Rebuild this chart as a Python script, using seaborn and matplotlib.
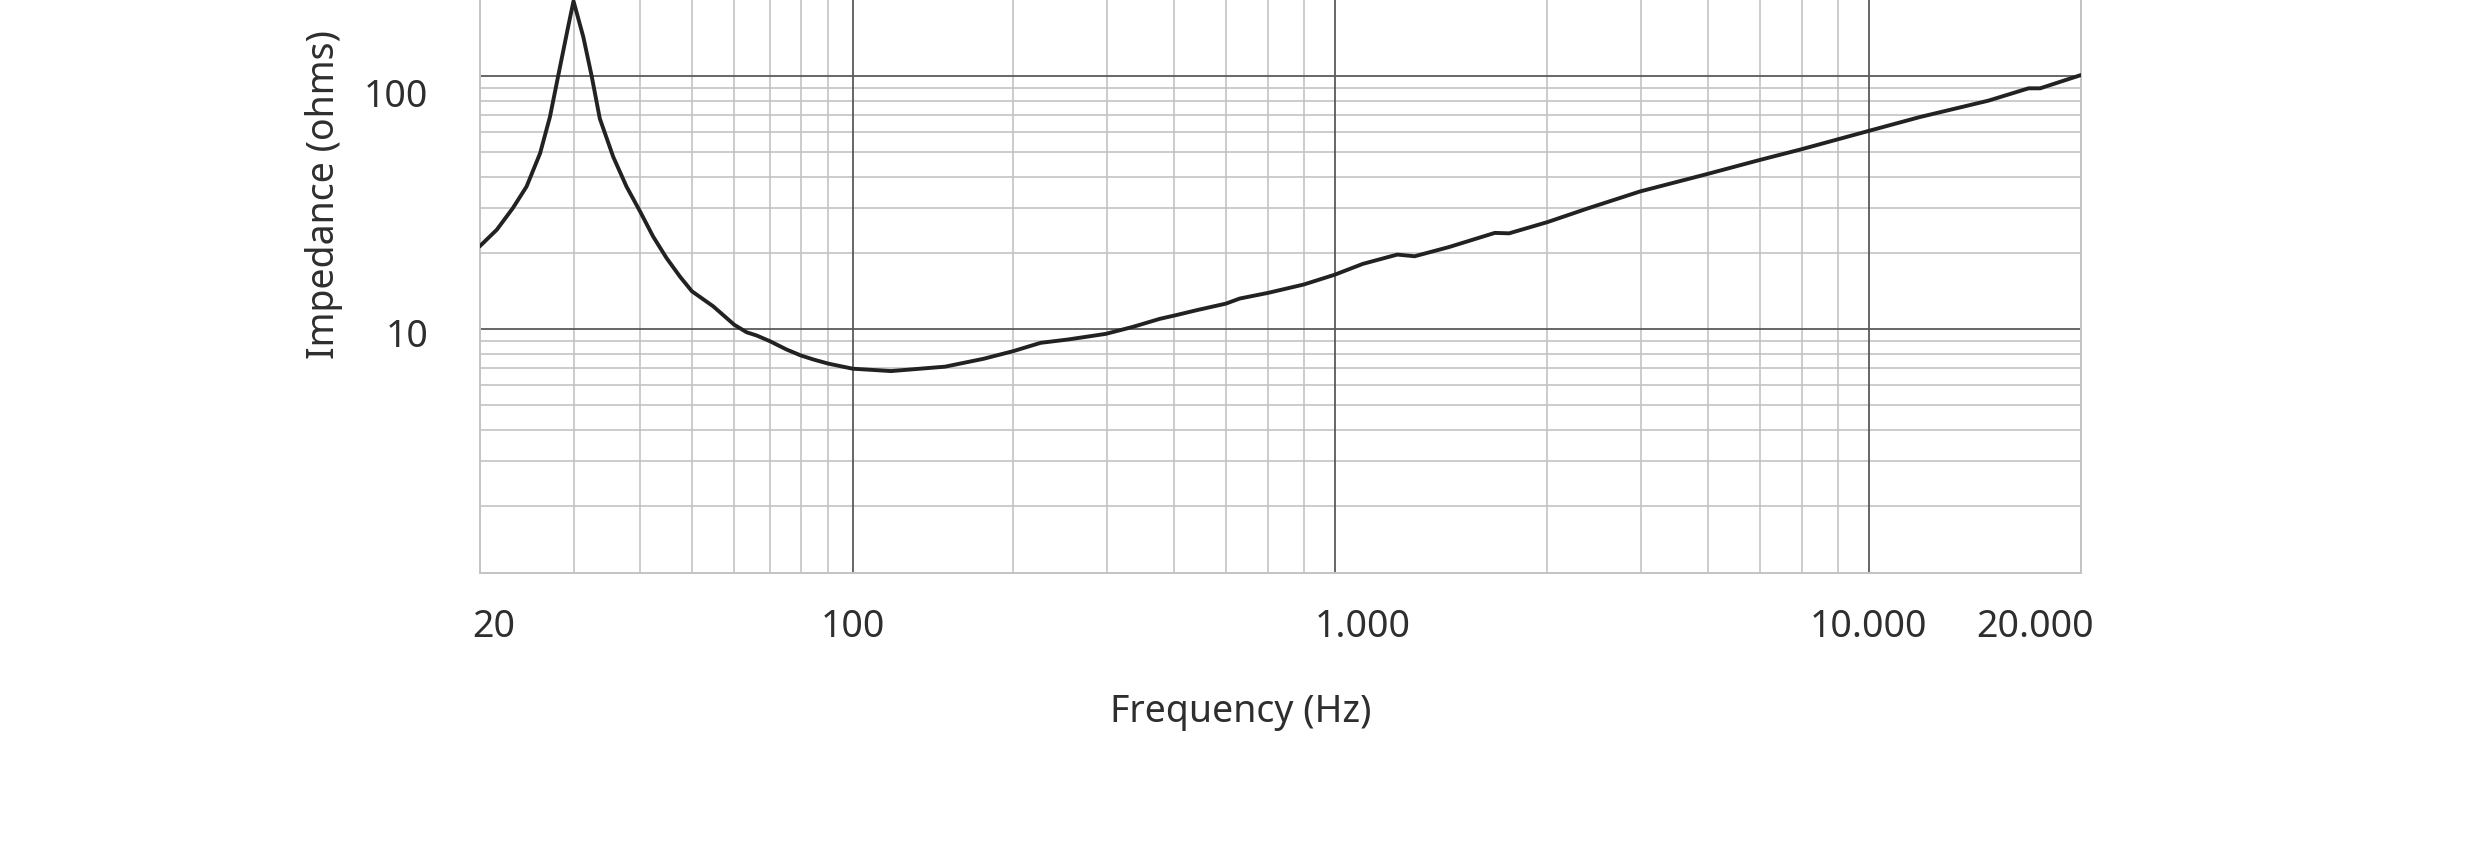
import numpy as np
import pandas as pd
import matplotlib
matplotlib.use("Agg")
import matplotlib.pyplot as plt
import seaborn as sns

# impedance curve
freq_hz = [20, 21.55, 23.1, 24.5, 25.97, 27.1, 28.3, 29.3, 30.0, 31.3, 32.45, 33.6,
           35.6, 37.7, 40, 42.3, 44.8, 47.5, 50, 54.8, 60, 63.3, 66.1, 70, 75.2, 80,
           84.4, 90, 100, 118, 149, 176, 200, 225, 253, 298, 335, 376, 400, 443, 500,
           531, 600, 700, 800, 903, 1048, 1129, 1310, 1596, 1697, 2005, 2372, 2986,
           3969, 4981, 5970, 7974, 9980, 13415, 15950, 16770, 20000]
impedance = [21.2, 24.7, 30.1, 36.6, 49.5, 69.0, 108.7, 156, 198, 142.7, 99.9, 68.0,
             48.0, 36.6, 29.1, 23.2, 19.1, 16.1, 14.1, 12.3, 10.4, 9.71, 9.43, 8.95,
             8.30, 7.86, 7.58, 7.30, 6.97, 6.82, 7.10, 7.63, 8.18, 8.82, 9.09, 9.57,
             10.2, 10.97, 11.3, 11.9, 12.6, 13.2, 13.9, 15.0, 16.4, 18.1, 19.7, 19.4,
             21.1, 24.0, 23.9, 26.5, 29.9, 35.0, 40.9, 46.5, 51.3, 60.6, 68.9, 80.0,
             89.5, 89.5, 101]

# grid as drawn on the original sheet
minor_x = [30, 40, 50, 60, 70, 80, 90, 200, 300, 400, 500, 600, 700,
           2000, 3000, 4000, 5000, 6000, 7000]
major_x = [100, 800, 8000]
minor_y = [2, 3, 4, 5, 6, 7, 8, 9, 20, 30, 40, 50, 60, 70, 80, 90]
major_y = [10, 100]

# tick labels and where they sit
x_tick_pos = [21.3, 100, 902, 8000, 16400]
x_tick_labels = ["20", "100", "1.000", "10.000", "20.000"]
y_tick_pos = [9.7, 86]
y_tick_labels = ["10", "100"]

df = pd.DataFrame({"freq": freq_hz, "imp": impedance})

sns.set_theme(style="white")
plt.rcParams["font.family"] = ["Noto Sans", "DejaVu Sans"]

fig = plt.figure(figsize=(24.8, 8.64), dpi=100)
ax = fig.add_axes([0.19335, 0.33623, 0.64577, 0.66377])
ax.set_xscale("log")
ax.set_yscale("log")

light = "#c3c3c3"
dark = "#5a5a5a"
for f in minor_x:
    ax.axvline(f, color=light, lw=1.2, zorder=1)
for f in major_x:
    ax.axvline(f, color=dark, lw=1.3, zorder=1.5)
for z in minor_y:
    ax.axhline(z, color=light, lw=1.2, zorder=1)
for z in major_y:
    ax.axhline(z, color=dark, lw=1.3, zorder=1.5)

sns.lineplot(data=df, x="freq", y="imp", ax=ax, color="#222222", lw=2.8,
             sort=False, zorder=3, solid_joinstyle="round", solid_capstyle="round")

ax.set_xlim(20, 20000)
ax.set_ylim(1.08, 200)

ax.xaxis.set_major_locator(matplotlib.ticker.FixedLocator(x_tick_pos))
ax.xaxis.set_major_formatter(matplotlib.ticker.FixedFormatter(x_tick_labels))
ax.xaxis.set_minor_locator(matplotlib.ticker.NullLocator())
ax.yaxis.set_major_locator(matplotlib.ticker.FixedLocator(y_tick_pos))
ax.yaxis.set_major_formatter(matplotlib.ticker.FixedFormatter(y_tick_labels))
ax.yaxis.set_minor_locator(matplotlib.ticker.NullLocator())

ax.tick_params(axis="both", length=0, labelsize=27, labelcolor="#2e2e2e")
ax.tick_params(axis="x", pad=25)
ax.tick_params(axis="y", pad=37)

for side in ["left", "bottom", "right"]:
    ax.spines[side].set_color(light)
    ax.spines[side].set_linewidth(1.4)
ax.spines["top"].set_visible(False)

ax.set_xlabel("Frequency (Hz)", fontsize=27, color="#2e2e2e")
ax.set_ylabel("Impedance (ohms)", fontsize=27, color="#2e2e2e")
ax.xaxis.set_label_coords(0.4755, -0.241)
ax.xaxis.label.set_va("center")
ax.yaxis.set_label_coords(-0.097, 0.661)
ax.yaxis.label.set_va("center")

fig.savefig("out.png", dpi=100, facecolor="white")
